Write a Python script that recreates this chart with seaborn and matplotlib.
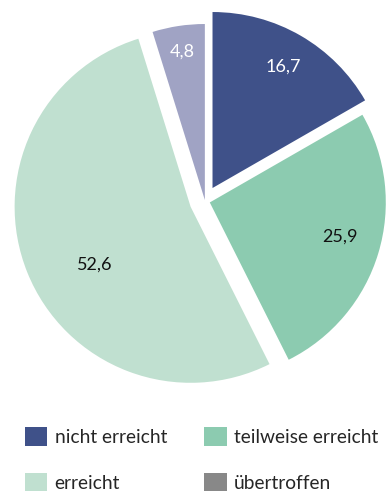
import numpy as np
import matplotlib
matplotlib.use("Agg")
import matplotlib.pyplot as plt
from matplotlib.patches import Patch
import seaborn as sns

# Anteile in Prozent
categories = ["nicht erreicht", "teilweise erreicht", "erreicht", "übertroffen"]
values = [16.7, 25.9, 52.6, 4.8]
value_labels = ["16,7", "25,9", "52,6", "4,8"]

slice_colors = ["#3f5189", "#8ccbb0", "#c0e0d0", "#a0a3c4"]
legend_colors = ["#3f5189", "#8ccbb0", "#c0e0d0", "#888888"]
label_colors = ["white", "#111111", "#111111", "white"]
# wedge offsets in pixels (pie's explode is in data units)
explode = [15, 5, 15.5, 1]
# value label placement: radial fraction and angular shift from the wedge middle
label_dist = [0.80, 0.765, 0.636, 0.85]
label_shift = [0, 2, 9.3, 0]

sns.set_theme(style="white")
plt.rcParams["font.family"] = ["Lato", "DejaVu Sans"]

W, H = 387, 491
fig = plt.figure(figsize=(W / 100, H / 100), dpi=100)
ax = fig.add_axes([0, 0, 1, 1])

R = 176
wedges, _ = ax.pie(values, colors=slice_colors, startangle=90, counterclock=False,
                   explode=explode, radius=R, center=(205, -201),
                   wedgeprops=dict(linewidth=0))
# pixel-based coordinate frame (pie resets the limits, so set them afterwards)
ax.set_xlim(0, W)
ax.set_ylim(-H, 0)
ax.set_aspect("equal")
ax.axis("off")

for w, lab, d, s, c in zip(wedges, value_labels, label_dist, label_shift, label_colors):
    th = np.deg2rad((w.theta1 + w.theta2) / 2 + s)
    cx, cy = w.center
    ax.text(cx + d * R * np.cos(th), cy + d * R * np.sin(th), lab,
            ha="center", va="center", fontsize=13, color=c)

# legend filled row by row: reorder for matplotlib's column-major layout
order = [0, 2, 1, 3]
handles = [Patch(facecolor=legend_colors[i], edgecolor="none") for i in order]
labels = [categories[i] for i in order]
fig.legend(handles, labels, loc="upper left", bbox_to_anchor=(25 / W, 1 - 427 / H),
           ncol=2, frameon=False, fontsize=13.8, handlelength=1.15, handleheight=1.15,
           handletextpad=0.4, columnspacing=1.95, labelspacing=1.4, borderpad=0,
           borderaxespad=0)

fig.savefig("out.png", dpi=100)
